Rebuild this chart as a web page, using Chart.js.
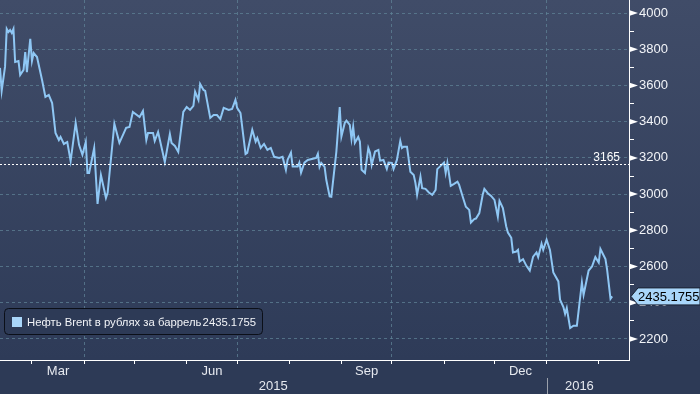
<!DOCTYPE html>
<html><head><meta charset="utf-8">
<script src="https://cdn.jsdelivr.net/npm/chart.js@4.4.1/dist/chart.umd.min.js"></script>
<style>html,body{margin:0;padding:0;background:#2d3a56;}#wrap{width:700px;height:394px;position:relative;}</style>
</head><body><div id="wrap"><canvas id="c" width="700" height="394"></canvas></div>
<script>
// ---------- DATA ----------
const seriesName = 'Нефть Brent в рублях за баррель';
const dates = [
'2015-02-10','2015-02-11','2015-02-13','2015-02-14','2015-02-15','2015-02-16','2015-02-17','2015-02-18','2015-02-19','2015-02-21',
'2015-02-22','2015-02-24','2015-02-25','2015-02-26','2015-02-28','2015-03-01','2015-03-02','2015-03-04','2015-03-07','2015-03-09',
'2015-03-11','2015-03-13','2015-03-15','2015-03-17','2015-03-18','2015-03-20','2015-03-22','2015-03-24','2015-03-27','2015-03-29',
'2015-03-31','2015-04-02','2015-04-03','2015-04-04','2015-04-07','2015-04-09','2015-04-11','2015-04-14','2015-04-15','2015-04-19',
'2015-04-22','2015-04-26','2015-04-28','2015-04-30','2015-05-04','2015-05-06','2015-05-08','2015-05-09','2015-05-12','2015-05-13',
'2015-05-15','2015-05-19','2015-05-22','2015-05-23','2015-05-25','2015-05-27','2015-05-30','2015-06-01','2015-06-03','2015-06-05',
'2015-06-06','2015-06-08','2015-06-09','2015-06-11','2015-06-12','2015-06-15','2015-06-17','2015-06-19','2015-06-21','2015-06-23',
'2015-06-26','2015-06-28','2015-06-30','2015-07-01','2015-07-03','2015-07-06','2015-07-07','2015-07-10','2015-07-12','2015-07-13',
'2015-07-15','2015-07-17','2015-07-19','2015-07-21','2015-07-23','2015-07-26','2015-07-28','2015-07-30','2015-07-31','2015-08-02',
'2015-08-03','2015-08-06','2015-08-07','2015-08-08','2015-08-10','2015-08-12','2015-08-15','2015-08-17','2015-08-18','2015-08-19',
'2015-08-20','2015-08-22','2015-08-23','2015-08-25','2015-08-26','2015-08-28','2015-08-29','2015-08-31','2015-09-01','2015-09-03',
'2015-09-04','2015-09-06','2015-09-07','2015-09-08','2015-09-09','2015-09-11','2015-09-12','2015-09-13','2015-09-15','2015-09-17',
'2015-09-18','2015-09-19','2015-09-21','2015-09-23','2015-09-24','2015-09-26','2015-09-28','2015-09-29','2015-10-01','2015-10-02',
'2015-10-04','2015-10-06','2015-10-07','2015-10-08','2015-10-10','2015-10-12','2015-10-14','2015-10-15','2015-10-16','2015-10-18',
'2015-10-19','2015-10-21','2015-10-23','2015-10-25','2015-10-27','2015-10-28','2015-10-30','2015-11-01','2015-11-02','2015-11-03',
'2015-11-05','2015-11-07','2015-11-09','2015-11-10','2015-11-12','2015-11-14','2015-11-16','2015-11-17','2015-11-19','2015-11-20',
'2015-11-22','2015-11-24','2015-11-25','2015-11-27','2015-11-29','2015-12-01','2015-12-03','2015-12-04','2015-12-06','2015-12-08',
'2015-12-09','2015-12-11','2015-12-12','2015-12-14','2015-12-15','2015-12-16','2015-12-18','2015-12-20','2015-12-22','2015-12-24',
'2015-12-26','2015-12-27','2015-12-29','2015-12-30','2016-01-01','2016-01-03','2016-01-05','2016-01-08','2016-01-09','2016-01-11',
'2016-01-12','2016-01-13','2016-01-15','2016-01-17','2016-01-19','2016-01-22','2016-01-23','2016-01-26','2016-01-28','2016-01-30',
'2016-02-01','2016-02-02','2016-02-05','2016-02-06','2016-02-08','2016-02-09'
];
const values = [
3697,3571,3704,3912,3895,3906,3890,3912,3730,3735,
3658,3686,3785,3674,3857,3735,3779,3757,3630,3537,
3548,3503,3338,3299,3316,3277,3288,3183,3393,3272,
3217,3288,3117,3117,3255,2946,3106,2979,3007,3388,
3283,3366,3371,3454,3426,3459,3299,3338,3338,3294,
3343,3178,3332,3283,3266,3233,3454,3481,3465,3487,
3566,3520,3608,3575,3570,3421,3437,3437,3415,3476,
3465,3470,3520,3476,3448,3222,3228,3355,3290,3310,
3255,3277,3244,3255,3206,3200,3206,3134,3189,3229,
3152,3152,3174,3119,3174,3189,3195,3200,3222,3150,
3172,3150,3079,2987,2985,3152,3235,3481,3318,3393,
3406,3382,3305,3373,3283,3316,3290,3134,3117,3255,
3228,3161,3235,3244,3185,3189,3139,3174,3172,3139,
3189,3294,3255,3262,3262,3124,3106,3062,2996,3097,
3033,3029,3009,2996,3023,3138,3156,3174,3117,3172,
3046,3057,3069,3051,2990,2930,2913,2843,2862,2865,
2895,2996,3029,3005,2990,2968,2876,2963,2923,2821,
2788,2759,2678,2683,2692,2628,2641,2604,2578,2655,
2678,2652,2726,2692,2748,2692,2567,2518,2417,2376,
2339,2371,2260,2273,2273,2512,2444,2578,2600,2652,
2622,2697,2641,2582,2422,2435.1755
];
const lastValueText = '2435.1755';
const refLevel = 3165;
const yMajorTicks = [2200,2400,2600,2800,3000,3200,3400,3600,3800,4000];
const monthLabels = [{month:'2015-03', label:'Mar'},{month:'2015-06', label:'Jun'},{month:'2015-09', label:'Sep'},{month:'2015-12', label:'Dec'}];
const yearLabels = ['2015','2016'];
const axisStart = '2015-02-10', axisEnd = '2016-02-19';

// ---------- helpers ----------
const DAY = 86400000, EPOCH = Date.UTC(2015,0,1);
const toDay = s => { const p = s.split('-').map(Number); return (Date.UTC(p[0], p[1]-1, p[2]||1) - EPOCH) / DAY; };
const xMin = toDay(axisStart), xMax = toDay(axisEnd);
const points = dates.map((d,i) => ({x: toDay(d), y: values[i]}));

const xTickDefs = [];
for (let k = 0; k < 15; k++) {
  const y = 2015 + Math.floor(k/12), m = k % 12;
  const v = (Date.UTC(y, m, 1) - EPOCH) / DAY;
  if (v >= xMin && v <= xMax) xTickDefs.push({v, label:'', quarter: m % 3 === 0, mark:true});
}
monthLabels.forEach(ml => {
  const [yy, mm] = ml.month.split('-').map(Number);
  const a = (Date.UTC(yy, mm-1, 1) - EPOCH)/DAY, b = (Date.UTC(yy, mm, 1) - EPOCH)/DAY;
  xTickDefs.push({v:(a+b)/2, label: ml.label, quarter:false, mark:false});
});
xTickDefs.sort((a,b)=>a.v-b.v);
const yearBreak = toDay('2016-01-01');
const lastDay = points[points.length-1].x;
const yearTickDefs = [{v:(xMin+yearBreak)/2, label:yearLabels[0]}, {v:(yearBreak+lastDay)/2, label:yearLabels[1]}];
const yTickVals = [];
for (let i = 0; i < yMajorTicks.length; i++) {
  yTickVals.push(yMajorTicks[i]);
  if (i < yMajorTicks.length-1) yTickVals.push((yMajorTicks[i]+yMajorTicks[i+1])/2);
}

const FONT = '"Liberation Sans", Arial, sans-serif';
Chart.defaults.font.family = FONT;
Chart.defaults.color = '#e6e9ef';
const GRID = 'rgba(95,130,150,0.75)';
const LINE = '#8fc7f4';
const noPad = s => { s.paddingTop = 0; s.paddingBottom = 0; s.paddingLeft = 0; s.paddingRight = 0; };

const bgPlugin = {
  id:'bg',
  beforeDraw(chart){
    const {ctx, chartArea} = chart;
    ctx.save();
    const g = ctx.createLinearGradient(0,0,0,chartArea.bottom);
    g.addColorStop(0,'#404c68');
    g.addColorStop(1,'#2e3b58');
    ctx.fillStyle = g;
    ctx.fillRect(0,0,chart.width,chartArea.bottom);
    ctx.fillStyle = '#2d3a56';
    ctx.fillRect(0,chartArea.bottom,chart.width,chart.height-chartArea.bottom);
    ctx.restore();
  }
};

const overlayPlugin = {
  id:'overlay',
  afterDatasetsDraw(chart){
    const {ctx, chartArea, scales} = chart;
    const y = Math.round(scales.y.getPixelForValue(refLevel)) + 0.5;
    ctx.save();
    ctx.strokeStyle = '#ffffff';
    ctx.lineWidth = 1;
    ctx.setLineDash([2,2]);
    ctx.beginPath(); ctx.moveTo(chartArea.left, y); ctx.lineTo(chartArea.right, y); ctx.stroke();
    ctx.setLineDash([]);
    ctx.fillStyle = '#ffffff';
    ctx.font = '12px ' + FONT;
    ctx.textAlign = 'right'; ctx.textBaseline = 'alphabetic';
    ctx.fillText(String(refLevel), chartArea.right - 9, y - 4);
    ctx.restore();
  },
  afterDraw(chart){
    const {ctx, chartArea, scales} = chart;
    ctx.save();
    ctx.fillStyle = '#ffffff';
    yMajorTicks.forEach(v => {
      const py = scales.y.getPixelForValue(v);
      ctx.beginPath();
      ctx.moveTo(chartArea.right, py - 3);
      ctx.lineTo(chartArea.right + 9, py);
      ctx.lineTo(chartArea.right, py + 3);
      ctx.closePath(); ctx.fill();
    });
    const sx = Math.round(scales.x.getPixelForValue(yearBreak)) + 0.5;
    ctx.strokeStyle = '#9aa0ab';
    ctx.lineWidth = 1;
    ctx.beginPath(); ctx.moveTo(sx, chartArea.bottom + 18); ctx.lineTo(sx, chart.height); ctx.stroke();
    // legend box
    ctx.beginPath();
    if (ctx.roundRect) ctx.roundRect(4.5, 308.5, 258, 26, 4); else ctx.rect(4.5,308.5,258,26);
    ctx.fillStyle = '#2d3a56';
    ctx.fill();
    ctx.strokeStyle = '#0b0f18';
    ctx.lineWidth = 1;
    ctx.stroke();
    ctx.fillStyle = '#a9d6fa';
    ctx.fillRect(12, 317, 10, 10);
    ctx.fillStyle = '#f2f4f8';
    ctx.font = '11.3px ' + FONT;
    ctx.textAlign = 'left'; ctx.textBaseline = 'alphabetic';
    ctx.fillText(seriesName, 27, 326);
    ctx.textAlign = 'right';
    ctx.fillText(lastValueText, 256, 326);
    // last value tag
    const ly = scales.y.getPixelForValue(values[values.length-1]);
    const tx = chartArea.right + 2;
    ctx.beginPath();
    ctx.moveTo(tx, ly);
    ctx.lineTo(tx + 7, ly - 8.5);
    ctx.lineTo(chart.width, ly - 8.5);
    ctx.lineTo(chart.width, ly + 8.5);
    ctx.lineTo(tx + 7, ly + 8.5);
    ctx.closePath();
    ctx.fillStyle = '#a9d6fa';
    ctx.fill();
    ctx.strokeStyle = '#1a2233';
    ctx.stroke();
    ctx.fillStyle = '#000000';
    ctx.font = '13px ' + FONT;
    ctx.textAlign = 'left'; ctx.textBaseline = 'middle';
    ctx.fillText(lastValueText, tx + 7, ly + 1);
    ctx.restore();
  }
};

new Chart(document.getElementById('c'), {
  type:'line',
  data:{ datasets:[{
    label: seriesName,
    data: points,
    borderColor: LINE,
    borderWidth: 2,
    pointRadius: 0,
    tension: 0,
    fill: false,
    xAxisID:'x', yAxisID:'y'
  }]},
  options:{
    responsive:false, animation:false, devicePixelRatio:1,
    layout:{padding:0},
    plugins:{legend:{display:false}, tooltip:{enabled:false}},
    scales:{
      x:{
        type:'linear', position:'bottom', min:xMin, max:xMax, weight:0,
        afterBuildTicks: s => { s.ticks = xTickDefs.map(t => ({value:t.v})); },
        afterFit: s => { s.height = 19; noPad(s); },
        ticks:{ autoSkip:false, maxRotation:0, padding:0, color:'#e6e9ef', font:{size:13},
          callback:(v,i) => xTickDefs[i] ? xTickDefs[i].label : '' },
        grid:{ display:true, drawOnChartArea:true, drawTicks:true, tickLength:4,
          color: c => (xTickDefs[c.index] && xTickDefs[c.index].quarter) ? GRID : 'rgba(0,0,0,0)',
          tickColor: c => (xTickDefs[c.index] && xTickDefs[c.index].mark) ? '#ffffff' : 'rgba(0,0,0,0)',
          lineWidth:1 },
        border:{ display:true, color:'#ffffff', width:1, dash:[3,3] }
      },
      xYear:{
        type:'linear', position:'bottom', min:xMin, max:xMax, weight:1,
        afterBuildTicks: s => { s.ticks = yearTickDefs.map(t => ({value:t.v})); },
        afterFit: s => { s.height = 15; noPad(s); },
        ticks:{ autoSkip:false, maxRotation:0, padding:0, color:'#e6e9ef', font:{size:13},
          callback:(v,i) => yearTickDefs[i] ? yearTickDefs[i].label : '' },
        grid:{ display:false, drawTicks:false, drawOnChartArea:false },
        border:{ display:false }
      },
      y:{
        type:'linear', position:'right', min:2084, max:4072,
        afterBuildTicks: s => { s.ticks = yTickVals.map(v => ({value:v})); },
        afterFit: s => { s.width = 71; noPad(s); },
        ticks:{ autoSkip:false, padding:5, color:'#f2f4f8', font:{size:13},
          callback: v => yMajorTicks.includes(v) ? String(v) : '' },
        grid:{ display:true, drawOnChartArea:true, drawTicks:true, tickLength:5,
          color: c => (c.tick && yMajorTicks.includes(c.tick.value)) ? GRID : 'rgba(0,0,0,0)',
          tickColor:'#ffffff', lineWidth:1 },
        border:{ display:true, color:'#ffffff', width:1, dash:[3,3] }
      }
    }
  },
  plugins:[bgPlugin, overlayPlugin]
});
</script>
</body></html>
